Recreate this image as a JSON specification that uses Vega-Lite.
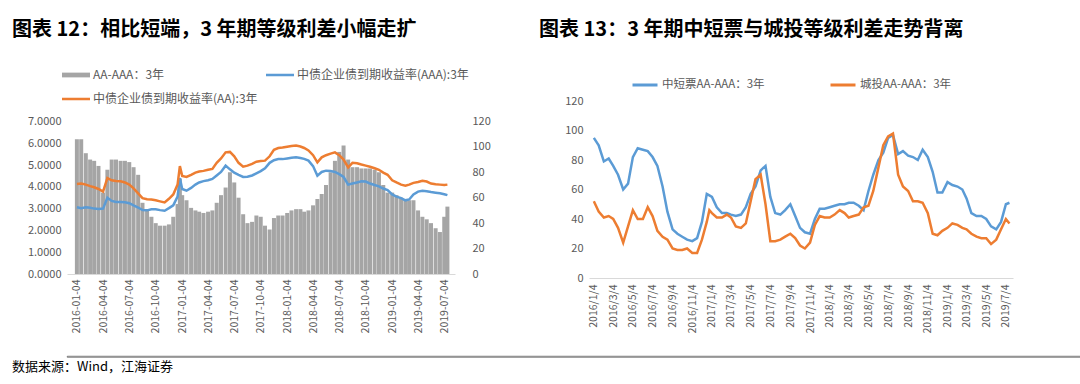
{
  "$schema": "https://vega.github.io/schema/vega-lite/v6.json",
  "background": "white",
  "padding": {"left": 12, "top": 20, "right": 0, "bottom": 0},
  "config": {
    "font": "Noto Sans CJK SC",
    "view": {"stroke": null},
    "axis": {"labelColor": "#595959", "labelFontSize": 10.5, "domainColor": "#d9d9d9", "ticks": false, "grid": false, "title": null, "labelFont": "Noto Sans CJK SC", "labelOverlap": false},
    "legend": {"labelColor": "#595959", "labelFontSize": 11, "labelFont": "Noto Sans CJK SC", "labelLimit": 400}
  },
  "datasets": {
    "d": [
      {"date": "2016-01-04", "bar": 106, "aaa": 3.06, "aa": 4.13, "mtn": 95, "ct": 52},
      {"date": "2016-01-19", "bar": 106, "aaa": 3.02, "aa": 4.15, "mtn": 90, "ct": 45},
      {"date": "2016-02-04", "bar": 95, "aaa": 3.06, "aa": 4.1, "mtn": 79, "ct": 41},
      {"date": "2016-02-19", "bar": 90, "aaa": 3.04, "aa": 4.03, "mtn": 81, "ct": 42},
      {"date": "2016-03-04", "bar": 89, "aaa": 3.0, "aa": 3.98, "mtn": 76, "ct": 40},
      {"date": "2016-03-19", "bar": 85, "aaa": 2.98, "aa": 3.9, "mtn": 70, "ct": 34},
      {"date": "2016-04-04", "bar": 64, "aaa": 3.0, "aa": 3.78, "mtn": 60, "ct": 24},
      {"date": "2016-04-19", "bar": 82, "aaa": 3.5, "aa": 4.4, "mtn": 64, "ct": 35},
      {"date": "2016-05-04", "bar": 90, "aaa": 3.35, "aa": 4.3, "mtn": 82, "ct": 46},
      {"date": "2016-05-19", "bar": 90, "aaa": 3.3, "aa": 4.27, "mtn": 88, "ct": 40},
      {"date": "2016-06-04", "bar": 89, "aaa": 3.3, "aa": 4.25, "mtn": 87, "ct": 40},
      {"date": "2016-06-19", "bar": 89, "aaa": 3.29, "aa": 4.2, "mtn": 86, "ct": 48},
      {"date": "2016-07-04", "bar": 88, "aaa": 3.25, "aa": 4.1, "mtn": 82, "ct": 42},
      {"date": "2016-07-19", "bar": 84, "aaa": 3.15, "aa": 3.93, "mtn": 76, "ct": 32},
      {"date": "2016-08-04", "bar": 78, "aaa": 3.05, "aa": 3.7, "mtn": 62, "ct": 28},
      {"date": "2016-08-19", "bar": 56, "aaa": 2.93, "aa": 3.48, "mtn": 45, "ct": 26},
      {"date": "2016-09-04", "bar": 50, "aaa": 2.92, "aa": 3.43, "mtn": 33, "ct": 20},
      {"date": "2016-09-19", "bar": 45, "aaa": 2.97, "aa": 3.42, "mtn": 30, "ct": 19},
      {"date": "2016-10-04", "bar": 40, "aaa": 2.97, "aa": 3.38, "mtn": 28, "ct": 19},
      {"date": "2016-10-19", "bar": 38, "aaa": 2.93, "aa": 3.33, "mtn": 26, "ct": 20},
      {"date": "2016-11-04", "bar": 38, "aaa": 2.9, "aa": 3.28, "mtn": 25, "ct": 17},
      {"date": "2016-11-19", "bar": 39, "aaa": 3.02, "aa": 3.45, "mtn": 27, "ct": 17},
      {"date": "2016-12-04", "bar": 45, "aaa": 3.15, "aa": 3.65, "mtn": 38, "ct": 26},
      {"date": "2016-12-19", "bar": 55, "aaa": 3.55, "aa": 4.1, "mtn": 57, "ct": 38},
      {"date": "2016-12-27", "bar": 75, "aaa": 4.4, "aa": 4.95, "mtn": 56, "ct": 46},
      {"date": "2017-01-04", "bar": 62, "aaa": 3.9, "aa": 4.5, "mtn": 55, "ct": 44},
      {"date": "2017-01-19", "bar": 58, "aaa": 3.82, "aa": 4.45, "mtn": 48, "ct": 41},
      {"date": "2017-02-04", "bar": 52, "aaa": 3.95, "aa": 4.55, "mtn": 44, "ct": 41},
      {"date": "2017-02-19", "bar": 50, "aaa": 4.1, "aa": 4.65, "mtn": 44, "ct": 43},
      {"date": "2017-03-04", "bar": 49, "aaa": 4.2, "aa": 4.7, "mtn": 43, "ct": 41},
      {"date": "2017-03-19", "bar": 48, "aaa": 4.26, "aa": 4.73, "mtn": 42, "ct": 35},
      {"date": "2017-04-04", "bar": 49, "aaa": 4.3, "aa": 4.78, "mtn": 43, "ct": 34},
      {"date": "2017-04-19", "bar": 50, "aaa": 4.36, "aa": 4.82, "mtn": 48, "ct": 37},
      {"date": "2017-05-04", "bar": 56, "aaa": 4.52, "aa": 5.1, "mtn": 57, "ct": 52},
      {"date": "2017-05-19", "bar": 62, "aaa": 4.68, "aa": 5.3, "mtn": 62, "ct": 67},
      {"date": "2017-06-04", "bar": 68, "aaa": 4.97, "aa": 5.58, "mtn": 73, "ct": 70},
      {"date": "2017-06-19", "bar": 80, "aaa": 4.8, "aa": 5.6, "mtn": 76, "ct": 50},
      {"date": "2017-07-04", "bar": 72, "aaa": 4.65, "aa": 5.4, "mtn": 55, "ct": 25},
      {"date": "2017-07-19", "bar": 60, "aaa": 4.55, "aa": 5.1, "mtn": 44, "ct": 25},
      {"date": "2017-08-04", "bar": 47, "aaa": 4.45, "aa": 4.92, "mtn": 43, "ct": 26},
      {"date": "2017-08-19", "bar": 40, "aaa": 4.46, "aa": 4.97, "mtn": 46, "ct": 28},
      {"date": "2017-09-04", "bar": 41, "aaa": 4.52, "aa": 5.05, "mtn": 50, "ct": 30},
      {"date": "2017-09-19", "bar": 46, "aaa": 4.62, "aa": 5.15, "mtn": 42, "ct": 27},
      {"date": "2017-10-04", "bar": 45, "aaa": 4.72, "aa": 5.18, "mtn": 34, "ct": 22},
      {"date": "2017-10-19", "bar": 38, "aaa": 4.85, "aa": 5.2, "mtn": 31, "ct": 20},
      {"date": "2017-11-04", "bar": 35, "aaa": 5.1, "aa": 5.4, "mtn": 30, "ct": 24},
      {"date": "2017-11-19", "bar": 44, "aaa": 5.22, "aa": 5.7, "mtn": 40, "ct": 36},
      {"date": "2017-12-04", "bar": 46, "aaa": 5.27, "aa": 5.78, "mtn": 47, "ct": 42},
      {"date": "2017-12-19", "bar": 46, "aaa": 5.27, "aa": 5.8, "mtn": 47, "ct": 41},
      {"date": "2018-01-04", "bar": 48, "aaa": 5.3, "aa": 5.84, "mtn": 48, "ct": 41},
      {"date": "2018-01-19", "bar": 50, "aaa": 5.33, "aa": 5.87, "mtn": 49, "ct": 43},
      {"date": "2018-02-04", "bar": 51, "aaa": 5.35, "aa": 5.89, "mtn": 50, "ct": 46},
      {"date": "2018-02-19", "bar": 51, "aaa": 5.32, "aa": 5.85, "mtn": 50, "ct": 44},
      {"date": "2018-03-04", "bar": 49, "aaa": 5.28, "aa": 5.78, "mtn": 51, "ct": 41},
      {"date": "2018-03-19", "bar": 50, "aaa": 5.2, "aa": 5.67, "mtn": 51, "ct": 42},
      {"date": "2018-04-04", "bar": 54, "aaa": 4.95, "aa": 5.45, "mtn": 49, "ct": 43},
      {"date": "2018-04-19", "bar": 59, "aaa": 4.51, "aa": 5.12, "mtn": 46, "ct": 48},
      {"date": "2018-05-04", "bar": 63, "aaa": 4.68, "aa": 5.35, "mtn": 59, "ct": 49},
      {"date": "2018-05-19", "bar": 70, "aaa": 4.74, "aa": 5.45, "mtn": 70, "ct": 59},
      {"date": "2018-06-04", "bar": 80, "aaa": 4.72, "aa": 5.52, "mtn": 80, "ct": 75},
      {"date": "2018-06-19", "bar": 89, "aaa": 4.68, "aa": 5.58, "mtn": 85, "ct": 90},
      {"date": "2018-07-04", "bar": 96, "aaa": 4.58, "aa": 5.45, "mtn": 95, "ct": 96},
      {"date": "2018-07-19", "bar": 101, "aaa": 4.45, "aa": 5.25, "mtn": 97, "ct": 98},
      {"date": "2018-08-04", "bar": 90, "aaa": 4.1, "aa": 4.89, "mtn": 84, "ct": 70},
      {"date": "2018-08-19", "bar": 84, "aaa": 4.15, "aa": 5.1, "mtn": 86, "ct": 62},
      {"date": "2018-09-04", "bar": 84, "aaa": 4.2, "aa": 5.08, "mtn": 83, "ct": 59},
      {"date": "2018-09-19", "bar": 83, "aaa": 4.25, "aa": 5.02, "mtn": 82, "ct": 52},
      {"date": "2018-10-04", "bar": 83, "aaa": 4.24, "aa": 4.97, "mtn": 80, "ct": 52},
      {"date": "2018-10-19", "bar": 83, "aaa": 4.15, "aa": 4.92, "mtn": 87, "ct": 51},
      {"date": "2018-11-04", "bar": 82, "aaa": 4.08, "aa": 4.85, "mtn": 82, "ct": 44},
      {"date": "2018-11-19", "bar": 80, "aaa": 4.02, "aa": 4.78, "mtn": 72, "ct": 30},
      {"date": "2018-12-04", "bar": 70, "aaa": 3.92, "aa": 4.65, "mtn": 58, "ct": 29},
      {"date": "2018-12-19", "bar": 64, "aaa": 3.85, "aa": 4.55, "mtn": 58, "ct": 32},
      {"date": "2019-01-04", "bar": 64, "aaa": 3.65, "aa": 4.3, "mtn": 65, "ct": 34},
      {"date": "2019-01-19", "bar": 62, "aaa": 3.55, "aa": 4.2, "mtn": 63, "ct": 37},
      {"date": "2019-02-04", "bar": 60, "aaa": 3.48, "aa": 4.1, "mtn": 62, "ct": 36},
      {"date": "2019-02-19", "bar": 59, "aaa": 3.38, "aa": 4.05, "mtn": 60, "ct": 34},
      {"date": "2019-03-04", "bar": 58, "aaa": 3.42, "aa": 4.1, "mtn": 54, "ct": 33},
      {"date": "2019-03-19", "bar": 58, "aaa": 3.65, "aa": 4.18, "mtn": 44, "ct": 30},
      {"date": "2019-04-04", "bar": 50, "aaa": 3.78, "aa": 4.22, "mtn": 42, "ct": 28},
      {"date": "2019-04-19", "bar": 45, "aaa": 3.82, "aa": 4.28, "mtn": 42, "ct": 27},
      {"date": "2019-05-04", "bar": 43, "aaa": 3.8, "aa": 4.24, "mtn": 40, "ct": 27},
      {"date": "2019-05-19", "bar": 40, "aaa": 3.76, "aa": 4.15, "mtn": 35, "ct": 23},
      {"date": "2019-06-04", "bar": 36, "aaa": 3.73, "aa": 4.12, "mtn": 33, "ct": 26},
      {"date": "2019-06-19", "bar": 33, "aaa": 3.7, "aa": 4.1, "mtn": 38, "ct": 33},
      {"date": "2019-07-04", "bar": 45, "aaa": 3.66, "aa": 4.08, "mtn": 50, "ct": 40},
      {"date": "2019-07-15", "bar": 53, "aaa": 3.62, "aa": 4.1, "mtn": 51, "ct": 37}
    ]
  },
  "title": {"text": "数据来源：Wind，江海证券", "orient": "bottom", "anchor": "start", "frame": "bounds", "fontSize": 13, "fontWeight": "normal", "color": "#000000", "offset": 4},
  "spacing": 21,
  "resolve": {"scale": {"color": "independent"}, "legend": {"color": "independent"}},
  "vconcat": [
    {
      "spacing": 48,
      "resolve": {"scale": {"color": "independent"}, "legend": {"color": "independent"}},
      "hconcat": [
        {
          "title": {"text": "图表 12：相比短端，3 年期等级利差小幅走扩", "anchor": "start", "frame": "group", "dx": -55, "fontSize": 20, "fontWeight": "bold", "color": "#000000", "offset": 21},
          "width": 388,
          "height": 173,
          "data": {"name": "d"},
          "layer": [
            {
              "mark": {"type": "bar", "size": 4},
              "encoding": {
                "x": {"field": "date", "type": "temporal",
                  "scale": {"type": "utc", "domain": [{"year": 2015, "month": 12, "date": 18, "utc": true}, {"year": 2019, "month": 7, "date": 24, "utc": true}]},
                  "axis": {"format": "%Y-%m-%d", "labelAngle": -90, "labelPadding": 5, "labelOverlap": false, "tickCount": 60,
                    "values": [
                      {"year": 2016, "month": 1, "date": 4, "utc": true}, {"year": 2016, "month": 4, "date": 4, "utc": true}, {"year": 2016, "month": 7, "date": 4, "utc": true}, {"year": 2016, "month": 10, "date": 4, "utc": true},
                      {"year": 2017, "month": 1, "date": 4, "utc": true}, {"year": 2017, "month": 4, "date": 4, "utc": true}, {"year": 2017, "month": 7, "date": 4, "utc": true}, {"year": 2017, "month": 10, "date": 4, "utc": true},
                      {"year": 2018, "month": 1, "date": 4, "utc": true}, {"year": 2018, "month": 4, "date": 4, "utc": true}, {"year": 2018, "month": 7, "date": 4, "utc": true}, {"year": 2018, "month": 10, "date": 4, "utc": true},
                      {"year": 2019, "month": 1, "date": 4, "utc": true}, {"year": 2019, "month": 4, "date": 4, "utc": true}, {"year": 2019, "month": 7, "date": 4, "utc": true}
                    ]}},
                "y": {"field": "bar", "type": "quantitative", "scale": {"domain": [0, 136.05], "nice": false},
                  "axis": {"orient": "right", "values": [0, 20, 40, 60, 80, 100, 120], "tickCount": 60, "labelPadding": 17, "domain": false, "labelFontSize": 11, "labelOverlap": false}},
                "color": {"datum": "a", "type": "nominal",
                  "scale": {"domain": ["a", "b", "c"], "range": ["#a5a5a5", "#5b9bd5", "#ed7d31"]},
                  "legend": {"orient": "none", "legendX": -5, "legendY": -40, "direction": "horizontal", "columns": 2, "columnPadding": 8, "rowPadding": 4, "title": null,
                    "labelFontSize": 12, "labelLimit": 400,
                    "labelExpr": "datum.value === 'a' ? 'AA-AAA：3年' : (datum.value === 'b' ? '中债企业债到期收益率(AAA):3年' : '中债企业债到期收益率(AA):3年')",
                    "symbolSize": 784, "labelOffset": 3,
                    "encode": {"symbols": {"update": {
                      "shape": {"signal": "datum.value === 'a' ? 'M-1,-0.17H1V0.17H-1Z' : 'M-1,-0.09H1V0.09H-1Z'"},
                      "fill": {"signal": "datum.value === 'a' ? '#a5a5a5' : (datum.value === 'b' ? '#5b9bd5' : '#ed7d31')"},
                      "stroke": {"value": "transparent"},
                      "strokeWidth": {"value": 0},
                      "opacity": {"value": 1}
                    }}}}}
              }
            },
            {
              "layer": [
                {
                  "mark": {"type": "line", "strokeWidth": 2.5},
                  "encoding": {
                    "x": {"field": "date", "type": "temporal"},
                    "y": {"field": "aaa", "type": "quantitative", "scale": {"domain": [0, 7.936], "nice": false},
                      "axis": {"orient": "left", "format": ".4f", "values": [0, 1, 2, 3, 4, 5, 6, 7], "tickCount": 60, "labelPadding": 6, "domain": false, "labelFontSize": 11, "labelOverlap": false}},
                    "color": {"datum": "b", "type": "nominal"}
                  }
                },
                {
                  "mark": {"type": "line", "strokeWidth": 2.5},
                  "encoding": {
                    "x": {"field": "date", "type": "temporal"},
                    "y": {"field": "aa", "type": "quantitative"},
                    "color": {"datum": "c", "type": "nominal"}
                  }
                }
              ]
            }
          ],
          "resolve": {"scale": {"y": "independent"}}
        },
        {
          "title": {"text": "图表 13：3 年期中短票与城投等级利差走势背离", "anchor": "start", "frame": "group", "dx": -50, "fontSize": 20, "fontWeight": "bold", "color": "#000000", "offset": 31},
          "width": 424,
          "height": 177,
          "data": {"name": "d"},
          "layer": [
            {
              "mark": {"type": "line", "strokeWidth": 2.5},
              "encoding": {
                "x": {"field": "date", "type": "temporal",
                  "scale": {"type": "utc", "domain": [{"year": 2015, "month": 12, "date": 20, "utc": true}, {"year": 2019, "month": 7, "date": 26, "utc": true}]},
                  "axis": {"format": "%Y/%-m/%-d", "labelAngle": -90, "labelPadding": 6, "labelOverlap": false, "tickCount": 60,
                    "values": [
                      {"year": 2016, "month": 1, "date": 4, "utc": true}, {"year": 2016, "month": 3, "date": 4, "utc": true}, {"year": 2016, "month": 5, "date": 4, "utc": true}, {"year": 2016, "month": 7, "date": 4, "utc": true}, {"year": 2016, "month": 9, "date": 4, "utc": true}, {"year": 2016, "month": 11, "date": 4, "utc": true},
                      {"year": 2017, "month": 1, "date": 4, "utc": true}, {"year": 2017, "month": 3, "date": 4, "utc": true}, {"year": 2017, "month": 5, "date": 4, "utc": true}, {"year": 2017, "month": 7, "date": 4, "utc": true}, {"year": 2017, "month": 9, "date": 4, "utc": true}, {"year": 2017, "month": 11, "date": 4, "utc": true},
                      {"year": 2018, "month": 1, "date": 4, "utc": true}, {"year": 2018, "month": 3, "date": 4, "utc": true}, {"year": 2018, "month": 5, "date": 4, "utc": true}, {"year": 2018, "month": 7, "date": 4, "utc": true}, {"year": 2018, "month": 9, "date": 4, "utc": true}, {"year": 2018, "month": 11, "date": 4, "utc": true},
                      {"year": 2019, "month": 1, "date": 4, "utc": true}, {"year": 2019, "month": 3, "date": 4, "utc": true}, {"year": 2019, "month": 5, "date": 4, "utc": true}, {"year": 2019, "month": 7, "date": 4, "utc": true}
                    ]}},
                "y": {"field": "mtn", "type": "quantitative", "scale": {"domain": [0, 120], "nice": false},
                  "axis": {"values": [0, 20, 40, 60, 80, 100, 120], "tickCount": 60, "labelPadding": 6, "domain": false, "labelFontSize": 11, "labelOverlap": false}},
                "color": {"datum": "中短票AA-AAA：3年", "type": "nominal",
                  "scale": {"domain": ["中短票AA-AAA：3年", "城投AA-AAA：3年"], "range": ["#5b9bd5", "#ed7d31"]},
                  "legend": {"orient": "none", "legendX": 42, "legendY": -30, "direction": "horizontal", "columnPadding": 59, "title": null,
                    "labelFontSize": 11.5,
                    "symbolType": "stroke", "symbolSize": 625, "symbolStrokeWidth": 3, "labelOffset": 3}}
              }
            },
            {
              "mark": {"type": "line", "strokeWidth": 2.5},
              "encoding": {
                "x": {"field": "date", "type": "temporal"},
                "y": {"field": "ct", "type": "quantitative"},
                "color": {"datum": "城投AA-AAA：3年", "type": "nominal"}
              }
            }
          ]
        }
      ]
    },
    {"data": {"values": []}, "mark": "point", "width": 1068, "height": 1, "view": {"stroke": "#595959", "strokeWidth": 0.75}}
  ]
}
